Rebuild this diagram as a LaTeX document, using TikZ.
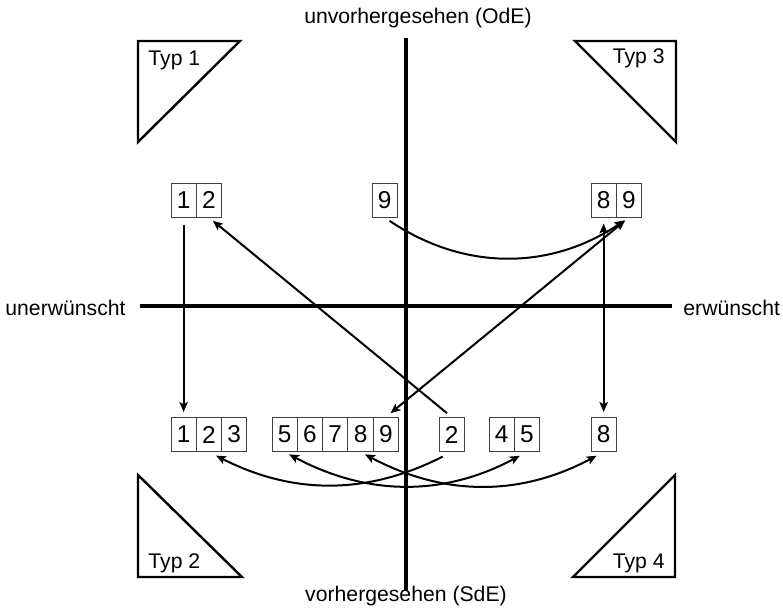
\documentclass[tikz,border=0pt]{standalone}
\usepackage{fontspec}
\setmainfont{Liberation Sans}
\usetikzlibrary{arrows.meta}

\begin{document}
\begin{tikzpicture}[x=0.5pt,y=0.5pt,
  font=\fontsize{10.6}{13}\selectfont,
  label/.style={inner sep=0pt},
  cell/.style={draw=black!75,line width=0.5pt,minimum width=12.65pt,minimum height=17pt,inner sep=0pt,font=\fontsize{12.2}{14}\selectfont},
  arr/.style={line width=1pt,-{Stealth[length=5pt,width=4.2pt,inset=1.2pt]},shorten <=3pt,shorten >=2.5pt},
  arrs/.style={arr,{Stealth[length=5pt,width=4.2pt,inset=1.2pt]}-{Stealth[length=5pt,width=4.2pt,inset=1.2pt]}},
  axis/.style={line width=1.7pt},
  tri/.style={line width=1.2pt,line join=miter}]
\useasboundingbox (0,0) rectangle (783,607);

\coordinate (vtop) at (406,569);
\coordinate (vbot) at (406,17);
\coordinate (hleft) at (140,301);
\coordinate (hright) at (672,301);
\draw[axis] (vtop) -- (vbot);
\draw[axis] (hleft) -- (hright);
\node[label,anchor=base] (ode) at (418,583) {unvorhergesehen (OdE)};
\node[label,anchor=base] (sde) at (406,6) {vorhergesehen (SdE)};
\node[label,anchor=base west] (neg) at (5,292) {unerwünscht};
\node[label,anchor=base west] (pos) at (683,292) {erwünscht};

\draw[tri] (138,566) -- (240,566) -- (138,465) -- cycle;
\node[label,anchor=base west] (typ1) at (148,542) {Typ 1};
\draw[tri] (575,566) -- (676,566) -- (676,465) -- cycle;
\node[label,anchor=base east] (typ3) at (665,544) {Typ 3};
\draw[tri] (138,132) -- (242,30) -- (138,30) -- cycle;
\node[label,anchor=base west] (typ2) at (148,39) {Typ 2};
\draw[tri] (675,132) -- (675,30) -- (573,30) -- cycle;
\node[label,anchor=base east] (typ4) at (665,39) {Typ 4};

\node[cell] (tl1) at (183.65,407) {1};
\node[cell] (tl2) at (208.95,407) {2};
\node[cell] (tm9) at (384.65,407) {9};
\node[cell] (tr8) at (603.65,407) {8};
\node[cell] (tr9) at (628.95,407) {9};

\node[cell] (bl1) at (183.65,172.5) {1};
\node[cell] (bl2) at (208.95,172.5) {2};
\node[cell] (bl3) at (234.25,172.5) {3};
\node[cell] (bm5) at (284.65,172.5) {5};
\node[cell] (bm6) at (309.95,172.5) {6};
\node[cell] (bm7) at (335.25,172.5) {7};
\node[cell] (bm8) at (360.55,172.5) {8};
\node[cell] (bm9) at (385.85,172.5) {9};
\node[cell] (bc2) at (451.65,172.5) {2};
\node[cell] (bd4) at (501.65,172.5) {4};
\node[cell] (bd5) at (526.95,172.5) {5};
\node[cell] (br8) at (603.65,172.5) {8};

\draw[arr,shorten <=3.5pt] (tl1.south) -- (bl1.north);
\draw[arr] (bc2.north) -- (tl2.south);
\draw[arrs] (bm9.north) -- (tr9.south);
\draw[arr] (tm9.south) to[bend right=34] (tr9.south);
\draw[arrs] (tr8.south) -- (br8.north);
\draw[arr,shorten <=5pt,shorten >=4pt] (bc2.south) to[bend left=27] (bl2.south);
\draw[arrs,shorten <=2.5pt,shorten >=4pt] (bm5.south) to[bend right=28] (bd5.south);
\draw[arrs,shorten <=2.5pt,shorten >=4pt] (bm8.south) to[bend right=28] (br8.south);
\end{tikzpicture}
\end{document}
